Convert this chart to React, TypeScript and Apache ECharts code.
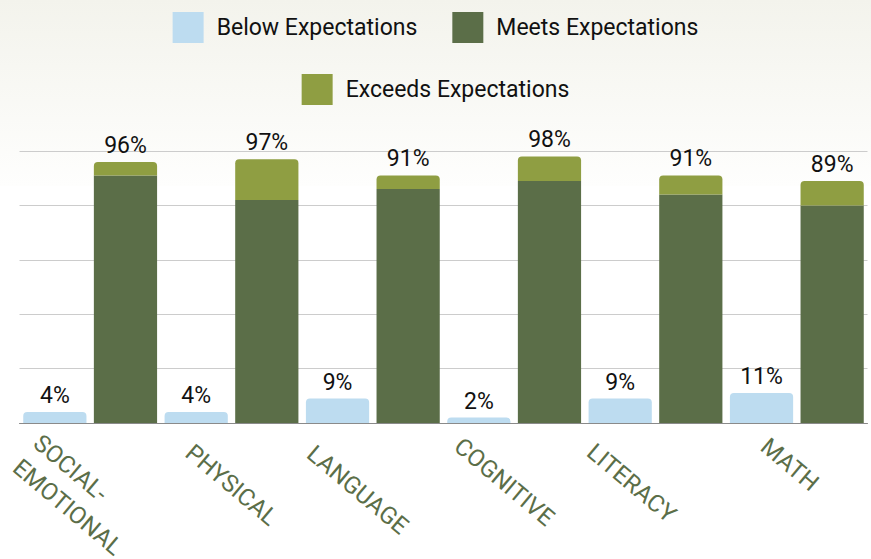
import React, { useEffect, useRef } from "react";
import * as echarts from "echarts";

const categories = ["SOCIAL-\nEMOTIONAL", "PHYSICAL", "LANGUAGE", "COGNITIVE", "LITERACY", "MATH"];
const belowValues = [4, 4, 9, 2, 9, 11];
const meetsValues = [91, 82, 86, 89, 84, 80];
const exceedsValues = [5, 15, 5, 9, 7, 9];
const seriesNames = ["Below Expectations", "Meets Expectations", "Exceeds Expectations"];

// per-label nudges (padding in the rotated label frame: top, right, bottom, left)
const labelPaddings = [
  [31, 6, 0, 0],
  [0, 0, 0, 0],
  [27, 17, 0, 0],
  [8, 19, 0, 0],
  [28, 39, 0, 0],
  [0, 37, 22, 0],
];

const FONT = "Roboto, 'Noto Sans', sans-serif";
const GREEN_DARK = "#5b6e48";
const GREEN_LIGHT = "#8f9e42";
const BLUE = "#bddcf0";

export default function App() {
  const ref = useRef<HTMLDivElement>(null);

  useEffect(() => {
    if (!ref.current) return;
    const chart = echarts.init(ref.current, null, { renderer: "svg" });
    const legendCommon = {
      left: "center",
      orient: "horizontal",
      padding: 0,
      itemWidth: 31,
      itemHeight: 31,
      itemGap: 35,
      icon: "rect",
      selectedMode: false,
      textStyle: { fontSize: 23, fontFamily: FONT, color: "#111111", padding: [0, 0, 0, 8] },
    };
    chart.setOption({
      animation: false,
      backgroundColor: "#ffffff",
      graphic: [
        {
          type: "rect",
          z: -10,
          silent: true,
          shape: { x: 0, y: 0, width: 871, height: 186 },
          style: {
            fill: new echarts.graphic.LinearGradient(0, 0, 0, 1, [
              { offset: 0, color: "#f3f3ec" },
              { offset: 1, color: "#fefefd" },
            ]),
          },
        },
      ],
      legend: [
        { ...legendCommon, top: 12, data: [seriesNames[0], seriesNames[1]] },
        { ...legendCommon, top: 74, data: [seriesNames[2]] },
      ],
      grid: { left: 19.5, right: 3.5, top: 151, bottom: 136, containLabel: false, outerBoundsMode: "none" },
      xAxis: {
        type: "category",
        data: categories.map((c, i) => ({
          value: c,
          textStyle: {
            padding: labelPaddings[i],
            align: "center",
            verticalAlign: "middle",
            color: GREEN_DARK,
            fontFamily: FONT,
            fontSize: 24,
            lineHeight: 32,
          },
        })),
        axisTick: { show: false },
        axisLine: { show: true, lineStyle: { color: "#8a8a8a", width: 1 } },
        axisLabel: {
          interval: 0,
          rotate: -40,
          align: "center",
          verticalAlign: "middle",
          margin: 62,
          color: GREEN_DARK,
          fontFamily: FONT,
          fontSize: 24,
          lineHeight: 32,
          formatter: (v: string) =>
            v.indexOf("\n") >= 0 ? v.split("\n").map((s) => `{l|${s}}`).join("\n") : v,
          rich: {
            l: { width: 134, align: "left", color: GREEN_DARK, fontFamily: FONT, fontSize: 24, lineHeight: 32 },
          },
        },
      },
      yAxis: {
        type: "value",
        min: 0,
        max: 100,
        interval: 20,
        axisLabel: { show: false },
        axisLine: { show: false },
        axisTick: { show: false },
        splitLine: { show: true, lineStyle: { color: "#cccccc", width: 1 } },
      },
      series: [
        {
          name: seriesNames[0],
          type: "bar",
          data: belowValues,
          barGap: "11.7%",
          barCategoryGap: "5.3%",
          itemStyle: { color: BLUE, borderRadius: [4, 4, 0, 0] },
          label: {
            show: true,
            position: "top",
            distance: 5,
            formatter: "{c}%",
            fontSize: 23,
            fontFamily: FONT,
            color: "#111111",
          },
        },
        {
          name: seriesNames[1],
          type: "bar",
          stack: "above",
          data: meetsValues,
          itemStyle: { color: GREEN_DARK },
        },
        {
          name: seriesNames[2],
          type: "bar",
          stack: "above",
          data: exceedsValues,
          itemStyle: { color: GREEN_LIGHT, borderRadius: [4, 4, 0, 0] },
          label: {
            show: true,
            position: "top",
            distance: 5,
            formatter: (p: any) => `${meetsValues[p.dataIndex] + exceedsValues[p.dataIndex]}%`,
            fontSize: 23,
            fontFamily: FONT,
            color: "#111111",
          },
        },
      ],
    });
    return () => chart.dispose();
  }, []);

  return (
    <div
      ref={ref}
      style={{ position: "fixed", left: 0, top: 0, width: 871, height: 559 }}
    />
  );
}
